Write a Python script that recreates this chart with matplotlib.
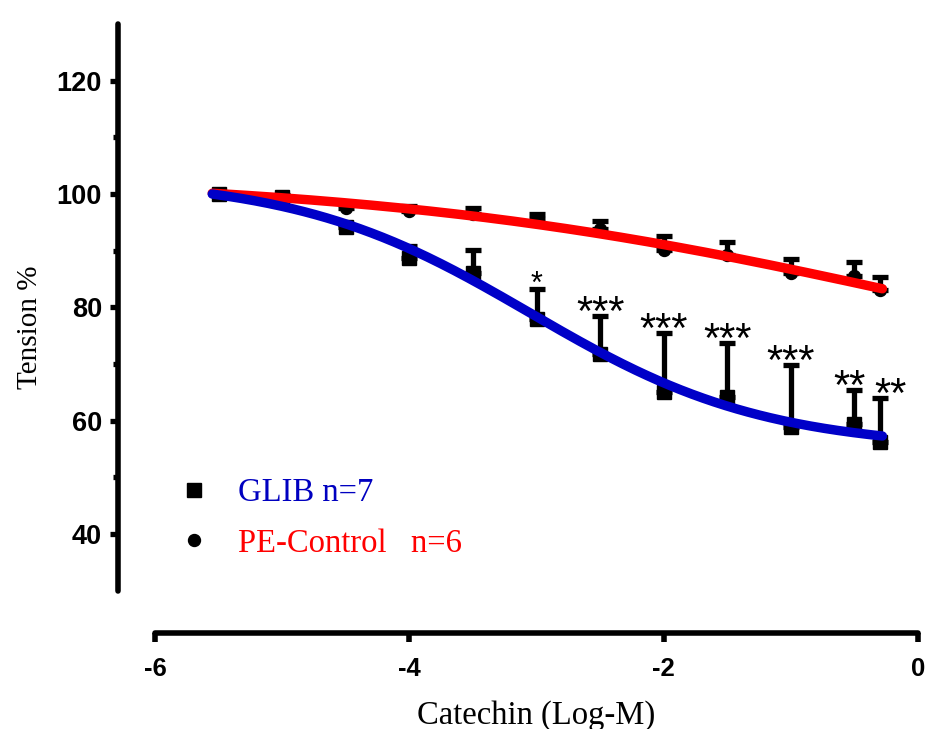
import numpy as np
import matplotlib
matplotlib.use('Agg')
import matplotlib.pyplot as plt
from matplotlib.lines import Line2D

plt.rcParams['axes.unicode_minus'] = False

# ---------------- data ----------------
log_conc = [-5.5, -5.0, -4.5, -4.0, -3.5, -3.0, -2.5, -2.0, -1.5, -1.0, -0.5, -0.3]
glib_mean = [100.0, 99.5, 94.1, 88.7, 86.0, 77.9, 71.8, 65.1, 64.2, 58.9, 59.4, 56.2]
glib_sem = [0.0, 0.3, 0.6, 2.2, 4.1, 5.3, 6.7, 10.4, 9.5, 10.9, 6.0, 7.8]
pe_mean = [100.0, 99.3, 97.6, 97.0, 96.5, 95.5, 93.9, 90.1, 89.2, 86.0, 85.6, 83.0]
pe_sem = [0.0, 0.4, 0.7, 0.9, 1.0, 1.0, 1.4, 2.4, 2.4, 2.6, 2.4, 2.4]
significance = ['', '', '', '', '', '*', '***', '***', '***', '***', '**', '**']
legend_labels = ['GLIB n=7', 'PE-Control   n=6']
x_ticks = [-6, -4, -2, 0]
y_ticks = [40, 60, 80, 100, 120]
y_minor = [50, 70, 90, 110]

# fitted 4-parameter logistic curves: (top, bottom, logEC50, hill slope)
glib_fit = (103.0, 55.0, -3.05, 0.47)
pe_fit = (103.2, 60.6, 0.0, 0.2)
fit_range = (-5.55, -0.28)


def logistic(x, top, bottom, ec50, hill):
    return bottom + (top - bottom) / (1.0 + 10 ** ((x - ec50) * hill))


BLUE = '#0000C8'
RED = '#FF0000'
SANS = 'Liberation Sans'
SERIF = 'Liberation Serif'

fig = plt.figure(figsize=(9.29, 7.29), dpi=100)
ax = fig.add_axes([118 / 929, 1 - 633 / 729, (921 - 118) / 929, (633 - 14) / 729])
ax.set_xlim(-6.291, 0.0236)
ax.set_ylim(22.51, 131.77)

zeros = np.zeros(len(log_conc))
for mean, sem in ((glib_mean, glib_sem), (pe_mean, pe_sem)):
    ax.errorbar(log_conc, mean, yerr=[zeros, sem], fmt='none', ecolor='black',
                elinewidth=3.8, capsize=6.0, capthick=3.8, zorder=2)

ax.plot(log_conc, glib_mean, 's', color='black', ms=9.4, zorder=3)
ax.plot(log_conc, pe_mean, 'o', color='black', ms=8.6, zorder=3)

xf = np.linspace(fit_range[0], fit_range[1], 300)
ax.plot(xf, logistic(xf, *pe_fit), color=RED, lw=6.8, solid_capstyle='round', zorder=4)
ax.plot(xf, logistic(xf, *glib_fit), color=BLUE, lw=6.8, solid_capstyle='round', zorder=5)

# significance stars above GLIB error bars
n = len(log_conc)
for i, (x, m, s, lab) in enumerate(zip(log_conc, glib_mean, glib_sem, significance)):
    if not lab:
        continue
    fs = 22 if lab == '*' else 30
    off = -2.5 if lab == '*' else -6.5
    dx = 8.0 if i == n - 1 else (-3.5 if i == n - 2 else 0.0)
    ax.annotate(lab, (x, m + s), xytext=(dx, off), textcoords='offset points',
                ha='center', va='baseline', fontsize=fs, family=SANS, color='black', zorder=6)

# axes styling (Prism-like)
for side in ('top', 'right'):
    ax.spines[side].set_visible(False)
ax.spines['left'].set_bounds(30, 130)
ax.spines['bottom'].set_bounds(-6, 0)
for side in ('left', 'bottom'):
    ax.spines[side].set_linewidth(4.0)
    ax.spines[side].set_capstyle('round')

ax.set_xticks(x_ticks)
ax.set_xticklabels([str(t) for t in x_ticks])
ax.set_yticks(y_ticks)
ax.set_yticks(y_minor, minor=True)
ax.tick_params(axis='y', which='major', length=5.5, width=3.8, pad=6, labelsize=19.5)
ax.tick_params(axis='y', which='minor', length=3.5, width=3.8)
ax.tick_params(axis='x', which='major', length=6.5, width=4.0, pad=10.5, labelsize=18.5)
for lbl in ax.get_xticklabels() + ax.get_yticklabels():
    lbl.set_fontweight('bold')
    lbl.set_family(SANS)

ax.set_xlabel('Catechin (Log-M)', family=SERIF, fontsize=23.5)
ax.xaxis.set_label_coords(0.521, -0.108)
ax.set_ylabel('Tension %', family=SERIF, fontsize=21)
ax.yaxis.set_label_coords(-0.0934, 0.4946)

handles = [Line2D([], [], ls='none', marker='s', color='black', ms=9.4),
           Line2D([], [], ls='none', marker='o', color='black', ms=8.6)]
leg = ax.legend(handles, legend_labels, loc='upper left', bbox_to_anchor=(0.0748, 0.2505),
                frameon=False, prop={'family': SERIF, 'size': 23.5}, handlelength=1.0,
                handletextpad=0.85, labelspacing=0.6, borderpad=0, borderaxespad=0)
for t, c in zip(leg.get_texts(), ['#0000C0', RED]):
    t.set_color(c)

fig.savefig('out.png', dpi=100)
